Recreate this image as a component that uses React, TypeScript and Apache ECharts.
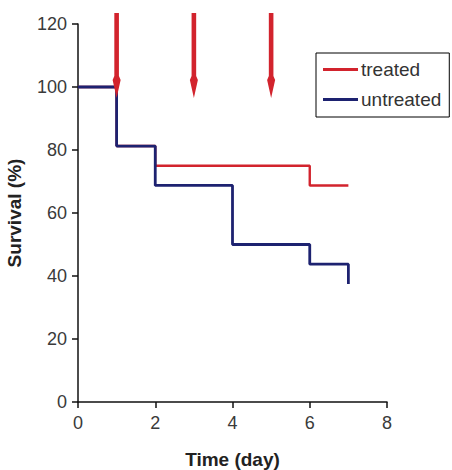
import React, { useEffect, useRef } from "react";
import * as echarts from "echarts";

const treatedDays = [0, 1, 2, 6, 7];
const treatedSurvival = [100, 81.25, 75, 68.75, 68.75];
const untreatedDays = [0, 1, 2, 4, 6, 7];
const untreatedSurvival = [100, 81.25, 68.75, 50, 43.75, 37.5];
const treatmentDays = [1, 3, 5];
const arrowTop = 123.5;
const arrowTip = 96.5;
const seriesNames = ["treated", "untreated"];

const RED = "#d2232d";
const BLUE = "#1d2270";
const FONT = "Liberation Sans";

export default function App() {
  const ref = useRef<HTMLDivElement>(null);
  useEffect(() => {
    if (!ref.current) return;
    const chart = echarts.init(ref.current, null, { renderer: "svg" });
    chart.setOption({
      animation: false,
      textStyle: { fontFamily: FONT },
      grid: { left: 78, right: 65, top: 24, bottom: 68, containLabel: false, outerBoundsMode: "none" },
      legend: {
        orient: "vertical",
        left: 316,
        top: 53,
        padding: [7, 8, 8, 7],
        borderColor: "#000",
        borderWidth: 1,
        itemWidth: 35,
        itemHeight: 3,
        itemGap: 11,
        textStyle: { fontSize: 19, color: "#333", fontFamily: FONT, padding: [0, 0, 0, -2] },
        data: seriesNames.map((n) => ({ name: n, icon: "rect" })),
      },
      xAxis: {
        type: "value",
        min: 0,
        max: 8,
        interval: 2,
        name: "Time (day)",
        nameLocation: "middle",
        nameGap: 47,
        nameTextStyle: { fontSize: 19, fontWeight: "bold", color: "#222", fontFamily: FONT, lineHeight: 20 },
        axisLine: { lineStyle: { color: "#111", width: 1.5 } },
        axisTick: { length: 6, lineStyle: { color: "#111", width: 1.5 } },
        axisLabel: { fontSize: 18, color: "#3a3a3a", margin: 12, fontFamily: FONT },
        splitLine: { show: false },
      },
      yAxis: {
        type: "value",
        min: 0,
        max: 120,
        interval: 20,
        name: "Survival (%)",
        nameLocation: "middle",
        nameGap: 54,
        nameTextStyle: { fontSize: 19, fontWeight: "bold", color: "#222", fontFamily: FONT },
        axisLine: { show: true, lineStyle: { color: "#111", width: 1.5 } },
        axisTick: { show: true, length: 6, lineStyle: { color: "#111", width: 1.5 } },
        axisLabel: { fontSize: 18, color: "#3a3a3a", margin: 11, fontFamily: FONT },
        splitLine: { show: false },
      },
      series: [
        {
          name: seriesNames[0],
          type: "line",
          step: "end",
          symbol: "none",
          color: RED,
          lineStyle: { color: RED, width: 2.4 },
          data: treatedDays.map((d, i) => [d, treatedSurvival[i]]),
          z: 2,
        },
        {
          name: seriesNames[1],
          type: "line",
          step: "end",
          symbol: "none",
          color: BLUE,
          lineStyle: { color: BLUE, width: 2.8 },
          data: untreatedDays.map((d, i) => [d, untreatedSurvival[i]]),
          z: 3,
        },
        {
          type: "custom",
          coordinateSystem: "cartesian2d",
          clip: false,
          silent: true,
          z: 4,
          data: treatmentDays.map((d) => [d, arrowTop, arrowTip]),
          renderItem: (params: any, api: any) => {
            const top = api.coord([api.value(0), api.value(1)]);
            const tip = api.coord([api.value(0), api.value(2)]);
            const x = top[0];
            const headLen = 22;
            const sw = 2.3;
            const hw = 4;
            return {
              type: "group",
              children: [
                {
                  type: "polygon",
                  shape: {
                    points: [
                      [x - sw, top[1]],
                      [x + sw, top[1]],
                      [x + sw, tip[1] - headLen],
                      [x + hw, tip[1] - headLen + 4],
                      [x, tip[1]],
                      [x - hw, tip[1] - headLen + 4],
                      [x - sw, tip[1] - headLen],
                    ],
                  },
                  style: { fill: RED, stroke: "none" },
                },
              ],
            };
          },
        },
      ],
    });
    return () => chart.dispose();
  }, []);
  return <div ref={ref} style={{ width: 452, height: 470, position: "absolute", left: 0, top: 0 }} />;
}
